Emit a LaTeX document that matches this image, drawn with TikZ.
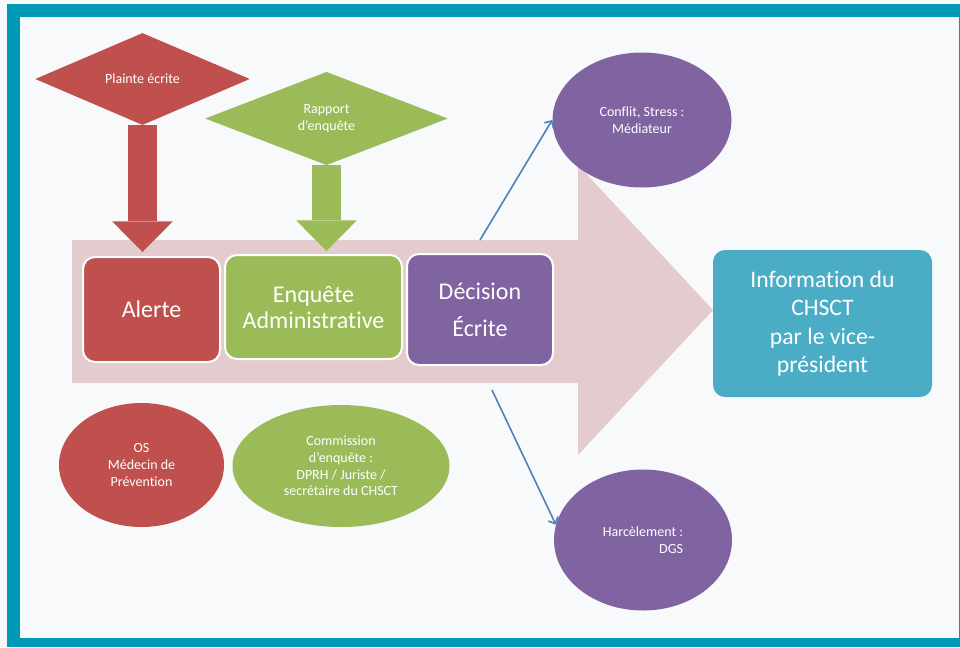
\documentclass[tikz,border=0pt]{standalone}
\usepackage{fontspec}
\setmainfont{Carlito}[Ligatures=NoCommon]
\usetikzlibrary{shapes.geometric,arrows.meta,calc}
\definecolor{cadre}{HTML}{0099B8}
\definecolor{fond}{HTML}{F8F9FB}
\definecolor{alerteRouge}{HTML}{C0504D}
\definecolor{enqueteVert}{HTML}{9BBB59}
\definecolor{decisionViolet}{HTML}{8064A2}
\definecolor{infoBleu}{HTML}{4BACC6}
\definecolor{flecheRose}{HTML}{E4CBCE}
\definecolor{lienBleu}{HTML}{4F81BD}
\begin{document}
\begin{tikzpicture}[x=0.75pt, y=-0.75pt,
	etape/.style={rounded corners=9pt, draw=white, line width=1.5pt, text=white, align=center, font=\fontsize{18}{19.5}\selectfont},
	bulle/.style={ellipse, inner sep=0pt, text=white, align=center, font=\fontsize{10.5}{12.4}\selectfont},
	losange/.style={diamond, inner sep=0pt, text=white, align=center, font=\fontsize{10.5}{12.4}\selectfont},
	bloc/.style={line width=21.5pt, -{Triangle[width=45.5pt, length=23pt, line width=0pt]}},
	lien/.style={draw=lienBleu, line width=1.2pt, -{Straight Barb[length=4pt, width=8pt]}}]
	% cadre
	\fill[fond] (0,0) rectangle (960,647);
	\fill[cadre] (7,4) rectangle (960,647);
	\fill[fond] (20,17) rectangle (959,638);
	% grande fleche
	\fill[flecheRose] (72,240) -- (578,240) -- (578,165) -- (713,310) -- (578,455) -- (578,383) -- (72,383) -- cycle;
	\node[etape, fill=alerteRouge, minimum width=102.75pt, minimum height=78.75pt] (alerte) at (151.5,309.5) {Alerte};
	\node[etape, fill=enqueteVert, minimum width=132.75pt, minimum height=78pt] (enquete) at (313.5,307) {Enquête\\Administrative};
	\node[etape, fill=decisionViolet, minimum width=109.5pt, minimum height=83.25pt] (decision) at (480,309.5) {Décision\\[8pt]Écrite};
	\node[etape, draw=none, fill=infoBleu, font=\fontsize{17.75}{21.4}\selectfont, minimum width=164.25pt, minimum height=110.25pt] (info) at (822.5,323.5) {Information du\\CHSCT\\par le vice-\\président};
	\node[losange, fill=alerteRouge, minimum width=161pt, minimum height=69pt] (plainte) at (142.5,79) {Plainte écrite};
	\node[losange, fill=enqueteVert, minimum width=182pt, minimum height=70pt] (rapport) at (326.5,118.5) {Rapport\\d’enquête};
	\node[bulle, fill=decisionViolet, minimum width=134.25pt, minimum height=101.25pt] (conflit) at (642,120) {Conflit, Stress :\\Médiateur};
	\node[bulle, fill=decisionViolet, align=right, minimum width=133.5pt, minimum height=105.75pt] (harcelement) at (643,540) {Harcèlement :\\DGS};
	\node[bulle, fill=alerteRouge, minimum width=123.75pt, minimum height=93pt] (os) at (141.5,465) {OS\\Médecin de\\Prévention};
	\node[bulle, fill=enqueteVert, minimum width=162.75pt, minimum height=91.5pt] (commission) at (341,466) {Commission\\d’enquête :\\DPRH / Juriste /\\secrétaire du CHSCT};
	\draw[bloc, alerteRouge] (plainte.south) -- ($(plainte.south |- alerte.north)+(0,-4)$);
	\draw[bloc, enqueteVert] (rapport.south) -- ($(rapport.south |- enquete.north)+(0,-3)$);
	\coordinate (haut) at (480,240);
	\coordinate (bas) at (492,390);
	\draw[lien] (haut) -- (conflit.west);
	\draw[lien] (bas) -- (harcelement.170);
\end{tikzpicture}
\end{document}
